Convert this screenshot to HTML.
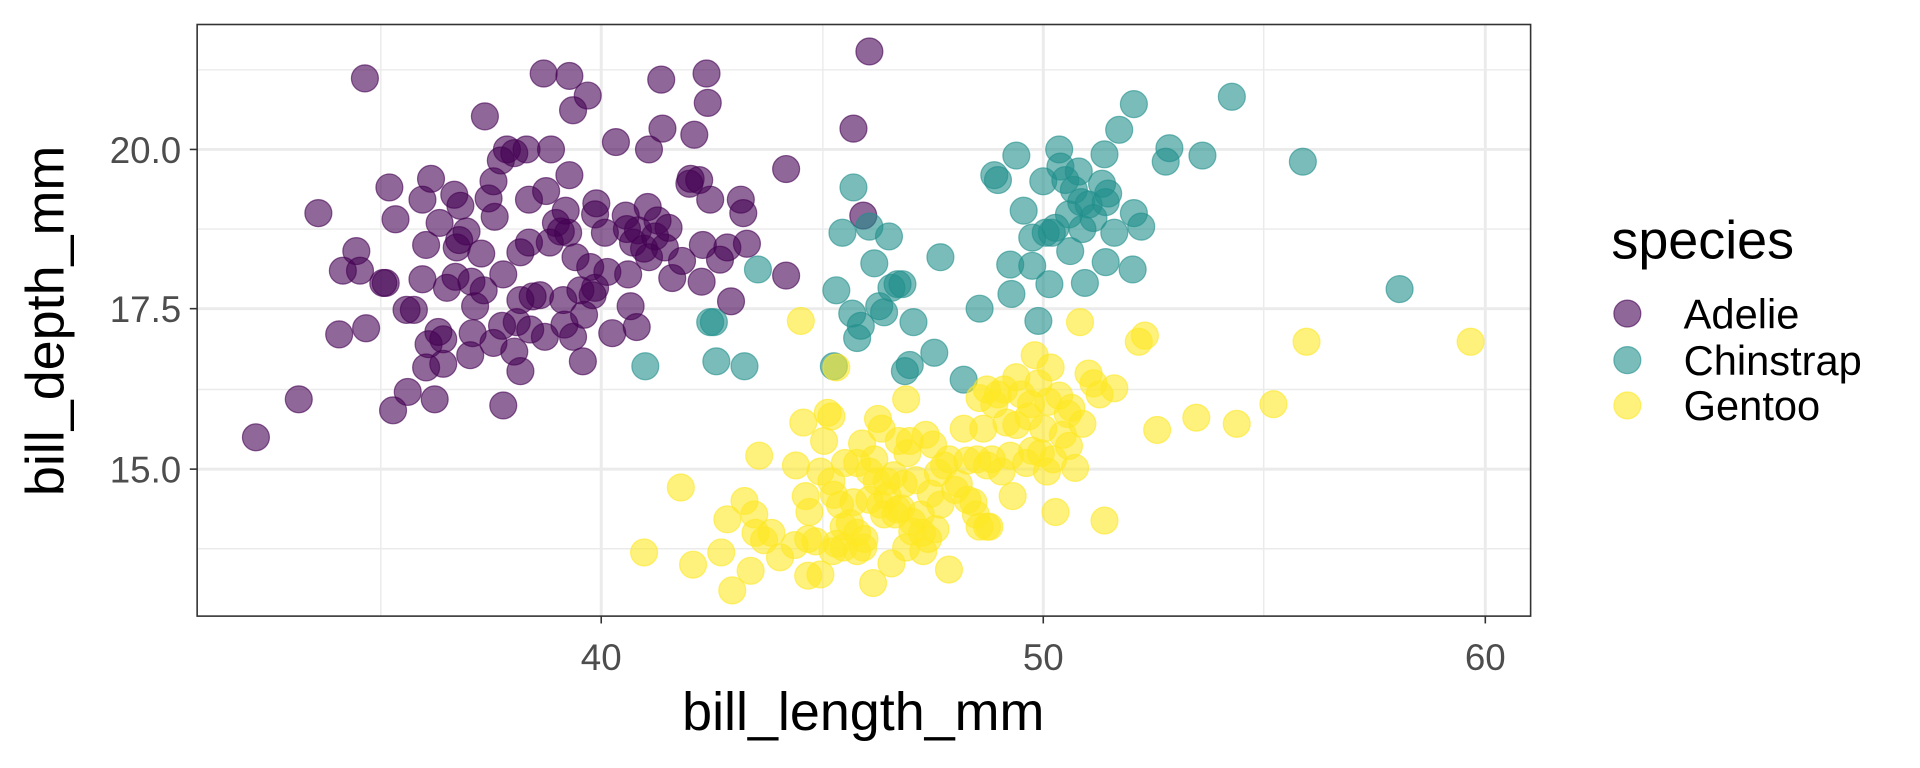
<!DOCTYPE html>
<html><head><meta charset="utf-8"><style>
html,body{margin:0;padding:0;background:#fff;}
svg{display:block;}
text{font-family:"Liberation Sans",sans-serif;}
</style></head><body>
<svg id="s" width="1920" height="768" viewBox="0 0 1568 627" preserveAspectRatio="none" xmlns="http://www.w3.org/2000/svg">
<rect x="0" y="0" width="1568" height="627" fill="#fff"/>
<g stroke="#ebebeb" stroke-width="1.2">
<line x1="161" x2="1250" y1="57" y2="57"/><line x1="161" x2="1250" y1="187" y2="187"/>
<line x1="161" x2="1250" y1="318" y2="318"/><line x1="161" x2="1250" y1="448" y2="448"/>
<line y1="20" y2="503" x1="311" x2="311"/><line y1="20" y2="503" x1="672" x2="672"/><line y1="20" y2="503" x1="1032" x2="1032"/>
</g>
<g stroke="#ebebeb" stroke-width="2.4">
<line x1="161" x2="1250" y1="122" y2="122"/><line x1="161" x2="1250" y1="252" y2="252"/><line x1="161" x2="1250" y1="383" y2="383"/>
<line y1="20" y2="503" x1="491" x2="491"/><line y1="20" y2="503" x1="852" x2="852"/><line y1="20" y2="503" x1="1213" x2="1213"/>
</g>
<g id="pts"></g>
<rect x="161" y="20" width="1089" height="483" fill="none" stroke="#333" stroke-width="1.3"/>
<g stroke="#333" stroke-width="1.3">
<line x1="155" x2="161" y1="122" y2="122"/><line x1="155" x2="161" y1="252" y2="252"/><line x1="155" x2="161" y1="383" y2="383"/>
<line y1="503" y2="509" x1="491" x2="491"/><line y1="503" y2="509" x1="852" x2="852"/><line y1="503" y2="509" x1="1213" x2="1213"/>
</g>
<g fill="#4d4d4d" font-size="30">
<text x="148" y="133" text-anchor="end">20.0</text>
<text x="148" y="263" text-anchor="end">17.5</text>
<text x="148" y="394" text-anchor="end">15.0</text>
<text x="491" y="547" text-anchor="middle">40</text>
<text x="852" y="547" text-anchor="middle">50</text>
<text x="1213" y="547" text-anchor="middle">60</text>
</g>
<text x="705" y="596" text-anchor="middle" font-size="44" fill="#000">bill_length_mm</text>
<text transform="translate(52,262) rotate(-90)" text-anchor="middle" font-size="44" fill="#000">bill_depth_mm</text>
<text x="1316" y="211" font-size="44" fill="#000">species</text>
<circle cx="1329" cy="256" r="11" fill="#440154" fill-opacity="0.6" stroke="#440154" stroke-opacity="0.6"/>
<circle cx="1329" cy="294" r="11" fill="#21908C" fill-opacity="0.6" stroke="#21908C" stroke-opacity="0.6"/>
<circle cx="1329" cy="331" r="11" fill="#FDE725" fill-opacity="0.6" stroke="#FDE725" stroke-opacity="0.6"/>
<g font-size="34" fill="#000">
<text x="1375" y="268">Adelie</text>
<text x="1375" y="306">Chinstrap</text>
<text x="1375" y="343">Gentoo</text>
</g>
</svg>
<script>
var A=[209,357,244,326,260,174,298,64,291,205,280,221,294,221,277,273,299,268,313,231,315,231,323,179,318,153,321,335,333,320,355,326,332,253,338,253,345,228,348,200,345,163,352,146,359,182,362,277,350,281,348,300,358,271,362,297,365,235,372,226,373,202,371,159,381,189,375,196,376,168,385,230,388,250,386,272,384,290,396,95,395,237,393,207,399,162,404,177,403,148,409,131,414,122,411,224,420,125,425,206,422,263,410,266,411,331,425,303,420,287,403,280,430,122,432,163,432,198,435,242,433,269,425,245,441,241,445,275,449,198,446,156,444,60,450,122,454,182,458,189,464,190,462,172,465,62,468,90,465,143,470,210,474,237,477,257,482,218,484,241,480,78,476,295,460,245,461,265,468,275,486,235,486,175,487,166,494,190,500,272,503,116,496,222,511,176,513,224,517,198,520,267,515,250,512,187,521,188,529,169,526,203,530,122,530,210,535,193,537,180,540,65,541,105,543,202,546,186,549,227,557,213,563,150,567,110,574,200,578,84,577,60,580,163,564,146,571,147,573,230,588,212,594,202,597,246,605,163,607,174,610,199,642,225,642,138,710,42,697,105,705,176];
var C=[527,299,580,263,583,263,585,295,608,299,619,220,681,299,683,237,688,190,697,153,700,276,696,256,703,266,710,185,714,215,718,250,722,255,726,193,728,235,733,232,737,232,739,303,743,298,746,263,763,288,768,210,787,310,800,252,812,143,815,147,826,240,825,216,830,127,836,172,843,217,848,262,843,194,854,190,852,148,857,232,859,190,862,186,865,122,866,136,870,147,873,175,874,205,877,155,881,140,883,165,884,187,886,231,889,167,893,178,900,150,902,126,903,214,903,165,905,158,910,190,914,106,926,85,926,174,925,220,932,185,952,132,955,121,982,127,1006,79,1064,132,1143,236];
var G=[526,451,556,398,566,461,589,451,598,482,594,424,608,409,613,466,616,420,620,372,624,441,630,435,637,455,654,262,656,345,658,405,661,418,666,442,670,469,673,360,676,337,679,393,681,404,683,444,686,412,689,430,690,378,694,427,697,410,700,378,700,435,704,362,706,440,710,408,713,476,714,375,716,393,717,342,719,412,720,350,722,420,725,405,728,460,730,388,731,420,734,360,736,415,738,395,740,326,741,370,743,360,745,434,748,392,752,420,754,450,756,355,758,440,760,403,764,432,766,386,768,412,771,380,775,375,780,400,787,350,790,376,795,410,797,420,800,430,800,325,803,350,806,380,808,430,812,330,815,322,818,385,822,345,825,372,827,405,830,347,834,322,838,378,840,340,843,368,845,290,848,313,850,370,852,350,855,385,856,328,860,375,862,418,865,323,868,355,872,338,875,333,878,382,882,263,884,346,889,305,893,313,898,322,902,425,910,317,930,279,935,274,945,351,977,341,1010,346,1040,330,1067,279,1201,279,683,300,679,340,670,385,660,440,740,447,753,435,762,363,775,465,810,375,798,375,830,308,873,364,858,300,842,330,820,318,806,318,806,430,724,393,733,416,745,426,700,450,689,447,680,450,660,470,705,447,649,445,617,435,650,380,783,395,790,408,710,385];
var g=document.getElementById('pts'),h='';
[[A,'#440154'],[C,'#21908C'],[G,'#FDE725']].forEach(function(p){for(var i=0;i<p[0].length;i+=2)h+='<circle cx="'+p[0][i]+'" cy="'+p[0][i+1]+'" r="11" fill="'+p[1]+'" fill-opacity="0.6" stroke="'+p[1]+'" stroke-opacity="0.6" stroke-width="1"/>';});
g.innerHTML=h;
</script>
</body></html>
